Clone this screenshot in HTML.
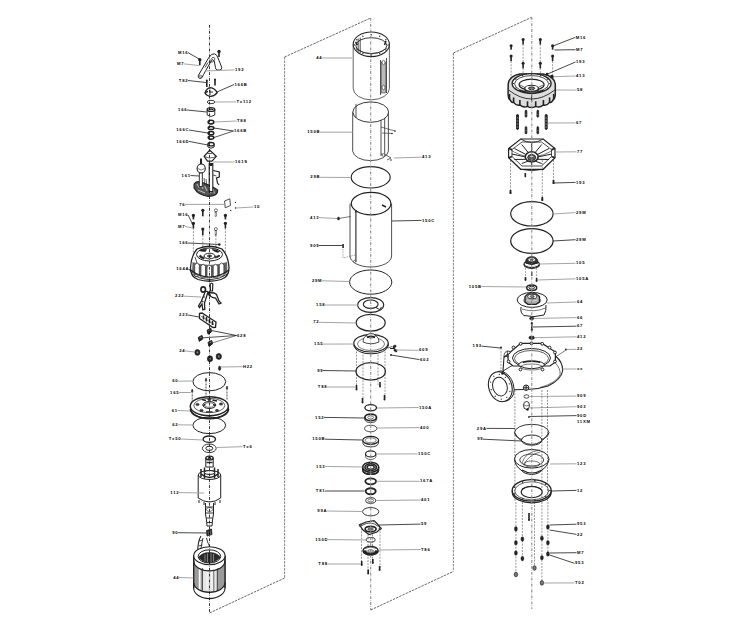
<!DOCTYPE html>
<html><head><meta charset="utf-8"><style>
html,body{margin:0;padding:0;background:#fff;}
body{width:752px;height:632px;overflow:hidden;}
svg{display:block;}
text{font-family:"Liberation Sans",sans-serif;font-size:4.2px;font-weight:bold;fill:#000;letter-spacing:0.75px;}
</style></head><body>
<svg width="752" height="632" viewBox="0 0 752 632">
<rect width="752" height="632" fill="#fff"/>
<line x1="209.5" y1="613" x2="284.6" y2="578" stroke="#444" stroke-width="0.8" stroke-dasharray="2.5,1"/>
<line x1="284.6" y1="57" x2="284.6" y2="578" stroke="#666" stroke-width="0.8" stroke-dasharray="2.5,1"/>
<line x1="284.6" y1="57" x2="370.7" y2="18" stroke="#444" stroke-width="0.8" stroke-dasharray="2.5,1"/>
<line x1="370.7" y1="610" x2="453.4" y2="571.4" stroke="#444" stroke-width="0.8" stroke-dasharray="2.5,1"/>
<line x1="453.4" y1="53" x2="453.4" y2="571.4" stroke="#666" stroke-width="0.8" stroke-dasharray="2.5,1"/>
<line x1="453.4" y1="53" x2="531.7" y2="17.3" stroke="#444" stroke-width="0.8" stroke-dasharray="2.5,1"/>
<circle cx="199.8" cy="59.8" r="1.7" fill="#222" stroke="none" stroke-width="0.5"/>
<rect x="199.0" y="59.8" width="1.6" height="5.5" fill="#222" stroke="none" stroke-width="0.5"/>
<circle cx="219" cy="51.5" r="1.7" fill="#222" stroke="none" stroke-width="0.5"/>
<rect x="218.2" y="51.5" width="1.6" height="5.5" fill="#222" stroke="none" stroke-width="0.5"/>
<path d="M198.3 75.5 L208.5 58 Q211.5 53 214.5 53.8 Q217 54.5 218 58 L221.8 67.5 Q222 70 219.5 70 L217 70 Q215.5 69.5 215.5 67.5 L214.2 61 Q213 58.5 211.5 60.5 L203.5 74.5 Q202.5 78.5 200 78.5 Q197.5 78 198.3 75.5 Z" stroke="#222" stroke-width="1.0" fill="#fff" />
<ellipse cx="200.4" cy="76.2" rx="1.4" ry="1.0" stroke="#222" stroke-width="0.6" fill="none" />
<path d="M209 62 L212.5 57.5 Q214.5 56.5 215 59 L213 62 Z" stroke="#222" stroke-width="0.7" fill="none" />
<path d="M205 67.5 L208 62.5" stroke="#222" stroke-width="0.8" fill="none" />
<text x="188.3" y="53.7" text-anchor="end">M16</text>
<line x1="188.0" y1="52.6" x2="200" y2="59.5" stroke="#1a1a1a" stroke-width="0.8"/>
<text x="184.3" y="65.0" text-anchor="end">M7</text>
<line x1="184.0" y1="63.9" x2="199" y2="65.5" stroke="#a0a0a0" stroke-width="0.95"/>
<text x="235" y="71.0" text-anchor="start">192</text>
<line x1="234.5" y1="69.9" x2="205" y2="71" stroke="#a0a0a0" stroke-width="0.95"/>
<circle cx="206.8" cy="80.5" r="1.0" fill="#222" stroke="none" stroke-width="0.5"/>
<rect x="206.0" y="80.5" width="1.6" height="6.5" fill="#222" stroke="none" stroke-width="0.5"/>
<circle cx="215" cy="79.5" r="1.0" fill="#222" stroke="none" stroke-width="0.5"/>
<rect x="214.2" y="79.5" width="1.6" height="6" fill="#222" stroke="none" stroke-width="0.5"/>
<text x="188.3" y="81.6" text-anchor="end">T82</text>
<line x1="188.0" y1="80.5" x2="206" y2="82.5" stroke="#1a1a1a" stroke-width="0.8"/>
<path d="M205 93 Q206.5 88 210.3 87.6 Q214.5 88 217.2 92.5 Q214.5 96.3 210.5 96.3 Q206.5 96 205 93 Z" stroke="#222" stroke-width="1.3" fill="#fff" />
<path d="M210 89.5 L210 95 M210 92 L213 92" stroke="#222" stroke-width="0.9" fill="none" />
<path d="M205 93 Q206.5 91.5 208 91.5" stroke="#222" stroke-width="1.6" fill="none" />
<text x="234.5" y="85.6" text-anchor="start">166B</text>
<line x1="234.0" y1="84.5" x2="217" y2="92" stroke="#1a1a1a" stroke-width="0.8"/>
<ellipse cx="211" cy="102" rx="3.8" ry="1.7" stroke="#222" stroke-width="0.9" fill="#fff" />
<text x="236.5" y="103.0" text-anchor="start">Tx112</text>
<line x1="236.0" y1="101.9" x2="214.8" y2="102" stroke="#a0a0a0" stroke-width="0.95"/>
<path d="M207.2 109.5 L207.2 115 Q211 118 214.8 115 L214.8 109.5" stroke="#222" stroke-width="0.9" fill="#fff" />
<ellipse cx="211" cy="109.5" rx="3.8" ry="1.9" stroke="#222" stroke-width="1.3" fill="#fff" />
<path d="M208.5 109.8 Q211 108.5 213.5 109.8" stroke="#222" stroke-width="1.1" fill="none" />
<text x="187.3" y="111.1" text-anchor="end">166</text>
<line x1="187.0" y1="110" x2="207" y2="112" stroke="#1a1a1a" stroke-width="0.8"/>
<ellipse cx="211" cy="122.1" rx="2.9" ry="1.9" stroke="#222" stroke-width="1.5" fill="#fff" />
<path d="M208.3 123 Q211 125 213.7 123" stroke="#222" stroke-width="0.7" fill="none" />
<text x="237" y="122.1" text-anchor="start">T88</text>
<line x1="236.5" y1="121" x2="214" y2="122" stroke="#a0a0a0" stroke-width="0.95"/>
<ellipse cx="211" cy="128" rx="2.8" ry="1.6" stroke="#222" stroke-width="1.5" fill="#fff" />
<ellipse cx="211" cy="133.2" rx="2.8" ry="1.6" stroke="#222" stroke-width="1.5" fill="#fff" />
<ellipse cx="211" cy="137.6" rx="2.8" ry="1.6" stroke="#222" stroke-width="1.5" fill="#fff" />
<text x="189.3" y="131.1" text-anchor="end">166C</text>
<line x1="189.0" y1="130" x2="208" y2="133" stroke="#1a1a1a" stroke-width="0.8"/>
<text x="234" y="132.1" text-anchor="start">166B</text>
<line x1="233.5" y1="131" x2="213.8" y2="128" stroke="#1a1a1a" stroke-width="0.8"/>
<line x1="233.5" y1="131" x2="213.8" y2="137.6" stroke="#222" stroke-width="0.75"/>
<path d="M207.9 144.2 L207.9 147 Q211 149.5 214.1 147 L214.1 144.2" stroke="#222" stroke-width="1.0" fill="#fff" />
<ellipse cx="211" cy="144.2" rx="3.1" ry="1.7" stroke="#222" stroke-width="1.3" fill="#fff" />
<text x="189.3" y="142.5" text-anchor="end">166D</text>
<line x1="189.0" y1="141.4" x2="207.8" y2="145" stroke="#1a1a1a" stroke-width="0.8"/>
<path d="M209.8 150.2 L216.3 156.3 L212 161.1 L207.5 161.1 L204.1 156.3 Z" stroke="#222" stroke-width="1.2" fill="#fff" />
<path d="M204.1 156.3 Q210 159.5 216.3 156.3 M207.5 153.5 L212 153.5" stroke="#222" stroke-width="0.7" fill="none" />
<text x="235" y="163.1" text-anchor="start">161S</text>
<line x1="234.5" y1="162" x2="213" y2="162" stroke="#a0a0a0" stroke-width="0.95"/>
<path d="M194.1 184 Q196 180.5 201 182 Q212 186 217.6 190 Q218 196.3 208 196.3 Q198 195 194.1 188 Z" stroke="#222" stroke-width="1.2" fill="#555" />
<path d="M197 184 L199 187.5 M200.5 184 L203 189 M204.5 185.5 L207 191 M209 187 L211 193 M213 189 L214.5 193.5 M198 190 L205 193" stroke="#ddd" stroke-width="0.8" fill="none" />
<rect x="209.2" y="163.5" width="3.6" height="28" fill="#fff" stroke="#222" stroke-width="1.1"/>
<rect x="209.4" y="163.5" width="3.2" height="2.5" fill="#222" stroke="none" stroke-width="0.5"/>
<path d="M201 159.3 L201 164" stroke="#222" stroke-width="2.0" fill="none" stroke-linecap="round"/>
<ellipse cx="201.2" cy="168.5" rx="4.1" ry="4.5" stroke="#222" stroke-width="1.1" fill="#fff" />
<path d="M197.8 168.5 Q201.2 171.5 204.6 168.5" stroke="#222" stroke-width="0.6" fill="none" />
<rect x="199.3" y="173" width="3.0" height="13.5" fill="#fff" stroke="#222" stroke-width="0.9"/>
<path d="M204 178 L205 186 M206 179 L207 187" stroke="#222" stroke-width="0.7" fill="none" />
<text x="190.8" y="176.6" text-anchor="end">161</text>
<line x1="190.5" y1="175.5" x2="199" y2="176" stroke="#1a1a1a" stroke-width="0.8"/>
<path d="M213.2 170.5 L219.3 172 L219.3 177 L216.5 178 L217.5 183 L219 185" stroke="#222" stroke-width="1.2" fill="none" />
<path d="M213.2 175 L216.5 176" stroke="#222" stroke-width="0.8" fill="none" />
<path d="M224.6 201 L229.8 198.8 L230.5 205.5 L225.2 207.8 Z" stroke="#222" stroke-width="0.8" fill="#fff" />
<text x="185.3" y="205.5" text-anchor="end">76</text>
<line x1="185.0" y1="204.4" x2="224.6" y2="204.4" stroke="#a0a0a0" stroke-width="0.95"/>
<circle cx="235.5" cy="202.4" r="0.6" fill="#222" stroke="none" stroke-width="0.5"/>
<circle cx="235.5" cy="208" r="0.7" fill="#222" stroke="none" stroke-width="0.5"/>
<circle cx="230.7" cy="210.4" r="0.7" fill="#222" stroke="none" stroke-width="0.5"/>
<text x="253.9" y="208.1" text-anchor="start">10</text>
<line x1="253.4" y1="207" x2="236" y2="208" stroke="#a0a0a0" stroke-width="0.95"/>
<circle cx="193.4" cy="215.4" r="1.6" fill="#222" stroke="none" stroke-width="0.5"/>
<rect x="192.6" y="215.4" width="1.6" height="4" fill="#222" stroke="none" stroke-width="0.5"/>
<circle cx="193.4" cy="223.3" r="1.6" fill="#222" stroke="none" stroke-width="0.5"/>
<rect x="192.6" y="223.3" width="1.6" height="5" fill="#222" stroke="none" stroke-width="0.5"/>
<line x1="193.4" y1="228" x2="193.4" y2="262" stroke="#333" stroke-width="0.5" stroke-dasharray="2,1.2"/>
<circle cx="225.4" cy="215.4" r="1.6" fill="#222" stroke="none" stroke-width="0.5"/>
<rect x="224.6" y="215.4" width="1.6" height="4" fill="#222" stroke="none" stroke-width="0.5"/>
<circle cx="225.4" cy="223.3" r="1.6" fill="#222" stroke="none" stroke-width="0.5"/>
<rect x="224.6" y="223.3" width="1.6" height="5" fill="#222" stroke="none" stroke-width="0.5"/>
<line x1="225.4" y1="228" x2="225.4" y2="262" stroke="#333" stroke-width="0.5" stroke-dasharray="2,1.2"/>
<circle cx="202.8" cy="210.3" r="1.6" fill="#222" stroke="none" stroke-width="0.5"/>
<rect x="202.0" y="210.3" width="1.6" height="6" fill="#222" stroke="none" stroke-width="0.5"/>
<circle cx="202.8" cy="229.1" r="1.6" fill="#222" stroke="none" stroke-width="0.5"/>
<rect x="202.0" y="229.1" width="1.6" height="6" fill="#222" stroke="none" stroke-width="0.5"/>
<line x1="202.8" y1="235" x2="202.8" y2="252" stroke="#333" stroke-width="0.5" stroke-dasharray="2,1.2"/>
<circle cx="215.9" cy="210.3" r="1.5" fill="#fff" stroke="#222" stroke-width="0.6"/>
<rect x="215.1" y="211.8" width="1.6" height="4.5" fill="#fff" stroke="#222" stroke-width="0.5"/>
<circle cx="215.9" cy="229.1" r="1.5" fill="#fff" stroke="#222" stroke-width="0.6"/>
<rect x="215.1" y="230.6" width="1.6" height="4.5" fill="#fff" stroke="#222" stroke-width="0.5"/>
<line x1="215.9" y1="235" x2="215.9" y2="250" stroke="#333" stroke-width="0.5" stroke-dasharray="2,1.2"/>
<text x="188.3" y="216.0" text-anchor="end">M16</text>
<line x1="188.0" y1="214.9" x2="193" y2="225" stroke="#1a1a1a" stroke-width="0.8"/>
<text x="185.3" y="227.6" text-anchor="end">M7</text>
<line x1="185.0" y1="226.5" x2="193" y2="228" stroke="#a0a0a0" stroke-width="0.95"/>
<text x="188.3" y="244.1" text-anchor="end">166</text>
<line x1="188.0" y1="243" x2="219.3" y2="244.5" stroke="#1a1a1a" stroke-width="0.8"/>
<circle cx="219.3" cy="244.5" r="1.3" fill="#222" stroke="none" stroke-width="0.5"/>
<path d="M197 249 Q209.5 243.5 222 249 Q228.5 256 229 268 Q229 277 221 279.5 Q209.5 283 198 279.5 Q190.5 277 190.5 268 Q191 256 197 249 Z" stroke="#222" stroke-width="1.3" fill="#fff" />
<path d="M192.5 262 Q209.5 268 227 262 L227.5 273 Q209.5 282 192 273 Z" stroke="#222" stroke-width="0" fill="#666" />
<path d="M194.7 276 L194.7 265.3 Q197 260.6 199.3 265.3 L199.3 276 Z" stroke="#222" stroke-width="0.7" fill="#fff" />
<path d="M200.89999999999998 277.3 L200.89999999999998 266.6 Q203.2 261.90000000000003 205.5 266.6 L205.5 277.3 Z" stroke="#222" stroke-width="0.7" fill="#fff" />
<path d="M207.0 277.8 L207.0 267.1 Q209.3 262.40000000000003 211.60000000000002 267.1 L211.60000000000002 277.8 Z" stroke="#222" stroke-width="0.7" fill="#fff" />
<path d="M213.2 277.3 L213.2 266.6 Q215.5 261.90000000000003 217.8 266.6 L217.8 277.3 Z" stroke="#222" stroke-width="0.7" fill="#fff" />
<path d="M219.29999999999998 276 L219.29999999999998 265.3 Q221.6 260.6 223.9 265.3 L223.9 276 Z" stroke="#222" stroke-width="0.7" fill="#fff" />
<path d="M190.5 270 Q209.5 284 229 270" stroke="#222" stroke-width="1.2" fill="none" />
<path d="M191 273.5 Q209.5 286 228.5 273.5" stroke="#222" stroke-width="0.9" fill="none" />
<ellipse cx="209.5" cy="254.5" rx="13" ry="6.5" stroke="#222" stroke-width="1.0" fill="#fff" />
<path d="M199 250.5 Q203 248.5 206.5 249.5 L205.5 251.5 Q201.5 251.5 199 250.5 Z" stroke="#222" stroke-width="0.6" fill="#222" />
<path d="M212 249.5 Q216.5 249 219.5 251.5 L217.5 252.5 Q214 251.5 212 249.5 Z" stroke="#222" stroke-width="0.6" fill="#222" />
<path d="M199 256.5 Q201 258.5 204 259 L204.5 257.5 Q202 257 200.5 255 Z" stroke="#222" stroke-width="0.6" fill="#222" />
<path d="M214.5 258 Q218 258 220 256 L219 255 Q217 256.5 214 256.5 Z" stroke="#222" stroke-width="0.6" fill="#222" />
<ellipse cx="209.5" cy="256" rx="5.5" ry="2.8" stroke="#222" stroke-width="1.0" fill="#fff" />
<ellipse cx="209.5" cy="256" rx="2.2" ry="1.1" stroke="#222" stroke-width="0.7" fill="#666" />
<path d="M195 257 Q196 260 197 263" stroke="#222" stroke-width="0.8" fill="none" />
<circle cx="196" cy="275.5" r="1.2" fill="#fff" stroke="#222" stroke-width="0.8"/>
<text x="189.3" y="270.1" text-anchor="end">164A</text>
<line x1="189.0" y1="269" x2="191.5" y2="272.5" stroke="#1a1a1a" stroke-width="0.8"/>
<ellipse cx="203.2" cy="289.5" rx="2.3" ry="2.6" stroke="#222" stroke-width="1.6" fill="#fff" />
<path d="M205.5 291 L208 292 L204.5 303 L204.8 309.5 L202.8 309.8 L202 304 L199.5 307.5 L198.5 306 L201.5 301 Z" stroke="#222" stroke-width="1.3" fill="#fff" />
<circle cx="204" cy="297" r="0.8" fill="#222" stroke="none" stroke-width="0.5"/>
<circle cx="202.8" cy="301.5" r="0.8" fill="#222" stroke="none" stroke-width="0.5"/>
<path d="M210.2 284 Q211.5 282.5 212.8 284 L212.5 291 L210.5 291 Z" stroke="#222" stroke-width="1.2" fill="#fff" />
<path d="M208.5 292.5 L214 293 L216.5 294.5 L219 301 L221 303 L219 304 L215.5 298 L212.5 297.5 L208.8 295 Z" stroke="#222" stroke-width="1.3" fill="#fff" />
<path d="M208.5 292.5 L210.5 296" stroke="#222" stroke-width="1.6" fill="none" />
<text x="184.3" y="297.3" text-anchor="end">222</text>
<line x1="184.0" y1="296.2" x2="201" y2="297" stroke="#a0a0a0" stroke-width="0.95"/>
<path d="M199.5 313.5 L202 313 L216 322 L215.5 327.4 L213 327.5 L199.5 318.5 Z" stroke="#222" stroke-width="1.3" fill="#fff" />
<path d="M203.5 315.5 L203.5 319.5 M206.5 317 L206.5 321.5 M209.5 319 L209.5 323.5 M212.5 321 L212.5 325" stroke="#222" stroke-width="1.5" fill="none" />
<path d="M201 316 L214 324.5" stroke="#222" stroke-width="0.6" fill="none" />
<text x="188.3" y="316.1" text-anchor="end">223</text>
<line x1="188.0" y1="315" x2="199" y2="317" stroke="#1a1a1a" stroke-width="0.8"/>
<path d="M207.10000000000002 330.2 L210.8 328.2 L211.60000000000002 331.7 L208.10000000000002 334.2 Z" stroke="#222" stroke-width="1.0" fill="#222" stroke-linejoin="round"/>
<line x1="208.3" y1="330.9" x2="210.5" y2="330.0" stroke="#bbb" stroke-width="0.6"/>
<path d="M198.3 337.4 L202.0 335.4 L202.8 338.9 L199.3 341.4 Z" stroke="#222" stroke-width="1.0" fill="#222" stroke-linejoin="round"/>
<line x1="199.5" y1="338.09999999999997" x2="201.7" y2="337.2" stroke="#bbb" stroke-width="0.6"/>
<path d="M208.0 342.4 L211.7 340.4 L212.5 343.9 L209.0 346.4 Z" stroke="#222" stroke-width="1.0" fill="#222" stroke-linejoin="round"/>
<line x1="209.2" y1="343.09999999999997" x2="211.39999999999998" y2="342.2" stroke="#bbb" stroke-width="0.6"/>
<text x="237" y="336.6" text-anchor="start">628</text>
<line x1="236.5" y1="335.5" x2="211.5" y2="330.5" stroke="#1a1a1a" stroke-width="0.8"/>
<line x1="236.5" y1="335.5" x2="203" y2="337.8" stroke="#1a1a1a" stroke-width="0.75"/>
<line x1="236.5" y1="335.5" x2="212" y2="343" stroke="#333" stroke-width="0.6"/>
<ellipse cx="197.4" cy="352.4" rx="2.6" ry="2.9" stroke="#222" stroke-width="0.6" fill="#222" />
<ellipse cx="210" cy="358.8" rx="2.7" ry="3.0" stroke="#222" stroke-width="0.6" fill="#222" />
<ellipse cx="218.8" cy="356.4" rx="2.7" ry="3.0" stroke="#222" stroke-width="0.6" fill="#222" />
<ellipse cx="197.4" cy="352.4" rx="1.0" ry="1.3" stroke="#222" stroke-width="0.3" fill="#888" />
<ellipse cx="210" cy="358.8" rx="1.0" ry="1.3" stroke="#222" stroke-width="0.3" fill="#888" />
<ellipse cx="218.8" cy="356.4" rx="1.0" ry="1.3" stroke="#222" stroke-width="0.3" fill="#888" />
<text x="185.3" y="352.0" text-anchor="end">24</text>
<line x1="185.0" y1="350.9" x2="194.7" y2="352" stroke="#a0a0a0" stroke-width="0.95"/>
<ellipse cx="219.6" cy="368.3" rx="1.2" ry="2.3" stroke="#222" stroke-width="0.4" fill="#222" />
<text x="243" y="367.8" text-anchor="start">H22</text>
<line x1="242.5" y1="366.7" x2="221" y2="367" stroke="#a0a0a0" stroke-width="0.95"/>
<ellipse cx="209.3" cy="381.7" rx="16.4" ry="9.1" stroke="#222" stroke-width="1.0" fill="none" />
<text x="178.3" y="382.3" text-anchor="end">60</text>
<line x1="178.0" y1="381.2" x2="193" y2="381" stroke="#a0a0a0" stroke-width="0.95"/>
<path d="M191.29999999999998 391.5 L192.2 389 L193.1 391.5 Z" stroke="#222" stroke-width="0.6" fill="#222" />
<line x1="192.2" y1="391.5" x2="192.2" y2="402" stroke="#222" stroke-width="0.8" stroke-dasharray="2,1"/>
<path d="M205.1 380.5 L206 378 L206.9 380.5 Z" stroke="#222" stroke-width="0.6" fill="#222" />
<line x1="206" y1="380.5" x2="206" y2="396" stroke="#222" stroke-width="0.8" stroke-dasharray="2,1"/>
<path d="M226.1 388.5 L227 386 L227.9 388.5 Z" stroke="#222" stroke-width="0.6" fill="#222" />
<line x1="227" y1="388.5" x2="227" y2="400" stroke="#222" stroke-width="0.8" stroke-dasharray="2,1"/>
<text x="179.3" y="393.6" text-anchor="end">165</text>
<line x1="179.0" y1="392.5" x2="191" y2="392.5" stroke="#a0a0a0" stroke-width="0.95"/>
<path d="M190.3 406.2 L190.5 409 A19 9.5 0 0 0 228.5 409 L228.3 406.2" stroke="#222" stroke-width="1.0" fill="#fff" />
<path d="M190.5 409 A19 9.5 0 0 0 228.5 409" stroke="#222" stroke-width="1.8" fill="none" />
<ellipse cx="209.3" cy="406.2" rx="19" ry="9.5" stroke="#222" stroke-width="1.4" fill="#fff" />
<ellipse cx="209.3" cy="405.5" rx="15.5" ry="7.2" stroke="#222" stroke-width="0.7" fill="none" />
<ellipse cx="209.3" cy="405" rx="6.5" ry="3.5" stroke="#222" stroke-width="1.0" fill="#fff" />
<ellipse cx="209.3" cy="405" rx="4.5" ry="2.3" stroke="#222" stroke-width="0.6" fill="none" />
<ellipse cx="197.5" cy="404.5" rx="1.6" ry="1.1" stroke="#222" stroke-width="0.7" fill="#444" />
<ellipse cx="221" cy="404" rx="1.6" ry="1.1" stroke="#222" stroke-width="0.7" fill="#444" />
<ellipse cx="201.5" cy="410.5" rx="1.6" ry="1.1" stroke="#222" stroke-width="0.7" fill="#444" />
<ellipse cx="217" cy="410.5" rx="1.6" ry="1.1" stroke="#222" stroke-width="0.7" fill="#444" />
<ellipse cx="209.3" cy="399.5" rx="1.6" ry="1.1" stroke="#222" stroke-width="0.7" fill="#444" />
<path d="M202 399.5 L206 400.5 M212.5 400 L217 401 M206 411.8 L212.5 411.8 M203.5 406 L205 404 M213.5 404 L215 406" stroke="#222" stroke-width="1.3" fill="none" />
<text x="177.8" y="411.6" text-anchor="end">61</text>
<line x1="177.5" y1="410.5" x2="190" y2="411" stroke="#a0a0a0" stroke-width="0.95"/>
<ellipse cx="209.3" cy="425.3" rx="16.4" ry="8.3" stroke="#222" stroke-width="1.0" fill="none" />
<text x="178.3" y="425.90000000000003" text-anchor="end">62</text>
<line x1="178.0" y1="424.8" x2="193" y2="425" stroke="#a0a0a0" stroke-width="0.95"/>
<ellipse cx="209.3" cy="439.2" rx="6.2" ry="3.2" stroke="#222" stroke-width="1.4" fill="none" />
<text x="181.3" y="440.1" text-anchor="end">Tx50</text>
<line x1="181.0" y1="439" x2="203" y2="440" stroke="#a0a0a0" stroke-width="0.95"/>
<ellipse cx="209.3" cy="448.3" rx="6.9" ry="4.3" stroke="#222" stroke-width="0.9" fill="#fff" />
<ellipse cx="209.3" cy="448.3" rx="3.5" ry="2.1" stroke="#222" stroke-width="1.0" fill="none" />
<text x="243" y="447.8" text-anchor="start">Tx6</text>
<line x1="242.5" y1="446.7" x2="216.5" y2="447.5" stroke="#a0a0a0" stroke-width="0.95"/>
<path d="M205.8 458 L205.8 467 L213.2 467 L213.2 458" stroke="#222" stroke-width="1.0" fill="#fff" />
<ellipse cx="209.5" cy="458" rx="3.7" ry="1.9" stroke="#222" stroke-width="1.3" fill="#fff" />
<ellipse cx="209.5" cy="458.2" rx="1.6" ry="0.9" stroke="#222" stroke-width="0.9" fill="#555" />
<path d="M206.5 462.5 L212.5 462.5" stroke="#222" stroke-width="1.4" fill="none" />
<path d="M198.2 475 L198.2 498 Q209.5 506 220.7 498 L220.7 475" stroke="#222" stroke-width="1.0" fill="#fff" />
<ellipse cx="209.5" cy="475" rx="11.2" ry="4.5" stroke="#222" stroke-width="1.0" fill="#fff" />
<path d="M201 469 L201 477 M218 469 L218 477 M204.5 467.5 L204.5 478.5 M214.5 467.5 L214.5 478.5" stroke="#222" stroke-width="1.5" fill="none" />
<path d="M201 474 Q209.5 481 218 474" stroke="#222" stroke-width="1.5" fill="none" />
<ellipse cx="209.5" cy="472.5" rx="5" ry="2" stroke="#222" stroke-width="1.0" fill="#fff" />
<path d="M199 500 L199 503 M220 500 L220 503 M204 502 L204 505 M215 502 L215 505" stroke="#222" stroke-width="1.0" fill="none" />
<path d="M205.5 503 L205.5 514 L206.5 520 L207 526 L212 526 L212.5 520 L213.5 514 L213.5 503" stroke="#222" stroke-width="1.0" fill="#fff" />
<path d="M205.5 507 L213.5 507 M205.8 513 L213.2 513 M206.5 518 L212.5 518 M207 522.5 L212 522.5" stroke="#222" stroke-width="0.9" fill="none" />
<ellipse cx="209.5" cy="509.5" rx="3" ry="2" stroke="#222" stroke-width="0.6" fill="none" />
<text x="179.3" y="493.70000000000005" text-anchor="end">112</text>
<line x1="179.0" y1="492.6" x2="204" y2="493" stroke="#a0a0a0" stroke-width="0.95"/>
<path d="M206.5 530.5 L211.5 529 L212 534.5 L207 536 Z" stroke="#222" stroke-width="0.8" fill="#222" />
<path d="M208 531 L208.5 535 M210.2 530.5 L210.7 534.5" stroke="#aaa" stroke-width="0.5" fill="none" />
<text x="178.3" y="533.8000000000001" text-anchor="end">90</text>
<line x1="178.0" y1="532.7" x2="206.5" y2="533" stroke="#1a1a1a" stroke-width="0.8"/>
<path d="M199 558 Q197 550 198.5 543 Q199.5 538 201 536" stroke="#222" stroke-width="1.1" fill="none" />
<path d="M201 558 Q200 551 201.5 545 L203 538" stroke="#222" stroke-width="0.9" fill="none" />
<path d="M199 541 L203 540 M198.5 546 L202.5 545 M198.5 550 L202 549" stroke="#222" stroke-width="0.8" fill="none" />
<path d="M206.5 538 Q207.5 543 209.5 546 Q209 552 210 556" stroke="#222" stroke-width="0.9" fill="none" />
<path d="M193.7 555.7 L193.7 588.3 A15.65 10.3 0 0 0 225 588.3 L225 555.7 Z" stroke="#222" stroke-width="1.1" fill="#fff" />
<path d="M193.7 561 A15.65 9.8 0 0 0 225 561 L225 582.5 A15.65 9.8 0 0 1 193.7 582.5 Z" stroke="#222" stroke-width="0" fill="#9a9a9a" />
<path d="M203 568.5 L203 590.5 A15.65 9.8 0 0 0 216.5 591 L216.5 569.3 A15.65 9.8 0 0 1 203 568.5 Z" stroke="#222" stroke-width="0" fill="#e6e6e6" />
<path d="M198.8 566.5 L198.8 589.5 L200.6 590 L200.6 567.2 Z" stroke="#222" stroke-width="0" fill="#fafafa" />
<path d="M206.5 566.5 L206.5 589.5 L207.5 590 L207.5 567.2 Z" stroke="#222" stroke-width="0" fill="#fafafa" />
<path d="M211.5 566.5 L211.5 589.5 L212.5 590 L212.5 567.2 Z" stroke="#222" stroke-width="0" fill="#fafafa" />
<path d="M202.5 568 L202.5 590 M213.8 569.5 L213.8 591 M217.5 568.5 L217.5 590.5" stroke="#333" stroke-width="0.7" fill="none" />
<path d="M193.7 561 A15.65 9.8 0 0 0 225 561" stroke="#222" stroke-width="1.2" fill="none" />
<path d="M193.7 582.5 A15.65 9.8 0 0 0 225 582.5" stroke="#222" stroke-width="1.2" fill="none" />
<line x1="193.7" y1="556" x2="193.7" y2="588.3" stroke="#222" stroke-width="1.3"/>
<line x1="225" y1="556" x2="225" y2="588.3" stroke="#222" stroke-width="1.3"/>
<ellipse cx="209.4" cy="555.7" rx="15.65" ry="9" stroke="#222" stroke-width="1.1" fill="#fff" />
<ellipse cx="209.4" cy="556.4" rx="11.3" ry="6.6" stroke="#222" stroke-width="1.0" fill="#fff" />
<path d="M198.5 557.5 Q202 552.5 209.4 552.5 Q217 552.5 220.5 557.5 Q215 562.5 209.4 562.5 Q203 562.5 198.5 557.5 Z" stroke="#222" stroke-width="0.6" fill="#2a2a2a" />
<path d="M205 554.5 L205 561.5 M207.5 553.5 L207.5 562 M211 553.5 L211 562 M213.5 554 L213.5 561.5" stroke="#aaa" stroke-width="0.7" fill="none" />
<path d="M196 553 Q199 549.5 202 549.8" stroke="#fff" stroke-width="1.0" fill="none" />
<text x="179.3" y="578.6" text-anchor="end">44</text>
<line x1="179.0" y1="577.5" x2="193.4" y2="578" stroke="#a0a0a0" stroke-width="0.95"/>
<path d="M353.2 44.3 L353.2 88.5 A18.1 11.3 0 0 0 389.4 88.5 L389.4 44.3" stroke="#333" stroke-width="0.75" fill="#fff" />
<ellipse cx="371.3" cy="44.3" rx="18.1" ry="12.3" stroke="#222" stroke-width="1.1" fill="#fff" />
<ellipse cx="371.3" cy="45.6" rx="15.5" ry="7.9" stroke="#222" stroke-width="0.9" fill="#fff" />
<path d="M355.5 48 Q371.3 60 387 48" stroke="#222" stroke-width="0.6" fill="none" />
<path d="M358.2 38.5 L358.2 52 M360.2 37.5 L360.2 53" stroke="#222" stroke-width="0.8" fill="none" />
<path d="M380.5 60 L380.5 95 M386.5 58 L386.5 93" stroke="#222" stroke-width="0.8" fill="none" />
<rect x="381.5" y="62" width="4" height="31" fill="#bbb" stroke="#333" stroke-width="0.5"/>
<ellipse cx="383.5" cy="62.5" rx="1.5" ry="2.2" stroke="#222" stroke-width="0.6" fill="#fff" />
<ellipse cx="383.5" cy="87.5" rx="1.5" ry="2.2" stroke="#222" stroke-width="0.6" fill="#fff" />
<circle cx="388.1" cy="44.9" r="0.7" fill="#222" stroke="none" stroke-width="0.5"/>
<circle cx="385.8" cy="49.9" r="0.7" fill="#222" stroke="none" stroke-width="0.5"/>
<circle cx="379.7" cy="53.6" r="0.7" fill="#222" stroke="none" stroke-width="0.5"/>
<circle cx="371.3" cy="55.0" r="0.7" fill="#222" stroke="none" stroke-width="0.5"/>
<circle cx="362.9" cy="53.6" r="0.7" fill="#222" stroke="none" stroke-width="0.5"/>
<circle cx="356.8" cy="49.9" r="0.7" fill="#222" stroke="none" stroke-width="0.5"/>
<circle cx="354.5" cy="44.9" r="0.7" fill="#222" stroke="none" stroke-width="0.5"/>
<circle cx="356.8" cy="39.8" r="0.7" fill="#222" stroke="none" stroke-width="0.5"/>
<circle cx="362.9" cy="36.2" r="0.7" fill="#222" stroke="none" stroke-width="0.5"/>
<circle cx="371.3" cy="34.8" r="0.7" fill="#222" stroke="none" stroke-width="0.5"/>
<circle cx="379.7" cy="36.2" r="0.7" fill="#222" stroke="none" stroke-width="0.5"/>
<circle cx="385.8" cy="39.8" r="0.7" fill="#222" stroke="none" stroke-width="0.5"/>
<path d="M355.5 42 L357.5 45 M386 41 L384.5 45" stroke="#222" stroke-width="1.5" fill="none" />
<text x="322.3" y="59.1" text-anchor="end">44</text>
<line x1="322.0" y1="58" x2="352" y2="58" stroke="#a0a0a0" stroke-width="0.95"/>
<path d="M352.7 112.1 L352.7 151.2 A17.9 10.2 0 0 0 388.4 151.2 L388.4 112.1" stroke="#222" stroke-width="0.8" fill="#fff" />
<ellipse cx="370.7" cy="112.1" rx="17.9" ry="10.2" stroke="#222" stroke-width="0.9" fill="#fff" />
<path d="M381 120.5 L381 156 M384.7 118 L384.7 155" stroke="#222" stroke-width="0.8" fill="none" />
<path d="M356 104 L356 118" stroke="#222" stroke-width="0.8" fill="none" />
<path d="M381 127 L395 131 M382 133 L392 133.5" stroke="#222" stroke-width="0.6" fill="none" />
<circle cx="395" cy="131" r="0.8" fill="#222" stroke="none" stroke-width="0.5"/>
<circle cx="392" cy="133.5" r="0.8" fill="#222" stroke="none" stroke-width="0.5"/>
<path d="M381 154 L386 155 L391 158 L387 160" stroke="#222" stroke-width="0.7" fill="none" />
<circle cx="383.5" cy="155" r="1.4" fill="#fff" stroke="#222" stroke-width="0.6"/>
<circle cx="391" cy="160" r="0.8" fill="#222" stroke="none" stroke-width="0.5"/>
<text x="320.3" y="133.29999999999998" text-anchor="end">150B</text>
<line x1="320.0" y1="132.2" x2="352.7" y2="132.2" stroke="#a0a0a0" stroke-width="0.95"/>
<text x="422" y="158.29999999999998" text-anchor="start">413</text>
<line x1="421.5" y1="157.2" x2="394" y2="158" stroke="#a0a0a0" stroke-width="0.95"/>
<ellipse cx="370.7" cy="177.3" rx="19.5" ry="10.7" stroke="#222" stroke-width="1.1" fill="none" />
<text x="320.3" y="178.4" text-anchor="end">29B</text>
<line x1="320.0" y1="177.3" x2="351" y2="177.5" stroke="#a0a0a0" stroke-width="0.95"/>
<path d="M350 203.6 L350 256 A20.8 11 0 0 0 391.6 256 L391.6 203.6" stroke="#222" stroke-width="0.8" fill="#fff" />
<ellipse cx="371.1" cy="203.6" rx="19.8" ry="11.2" stroke="#222" stroke-width="1.2" fill="#fff" />
<line x1="355.9" y1="211" x2="355.9" y2="262" stroke="#222" stroke-width="1.1"/>
<circle cx="356" cy="211.5" r="0.9" fill="#222" stroke="none" stroke-width="0.5"/>
<circle cx="354.5" cy="261.5" r="1.1" fill="#fff" stroke="#222" stroke-width="0.6"/>
<path d="M382 205 L386 207" stroke="#222" stroke-width="1.4" fill="none" />
<path d="M338.5 218.5 L350.5 216.5" stroke="#222" stroke-width="0.6" fill="none" />
<ellipse cx="338.5" cy="218.5" rx="1.2" ry="1.5" stroke="#222" stroke-width="0.4" fill="#222" />
<path d="M343 244 L343 258 L355 255" stroke="#555" stroke-width="0.5" fill="none" stroke-dasharray="1.5,1"/>
<rect x="342.3" y="244" width="1.5" height="4" fill="#222" stroke="none" stroke-width="0.5"/>
<text x="319.3" y="218.7" text-anchor="end">413</text>
<line x1="319.0" y1="217.6" x2="337" y2="218.5" stroke="#a0a0a0" stroke-width="0.95"/>
<text x="319.3" y="246.6" text-anchor="end">909</text>
<line x1="319.0" y1="245.5" x2="342.5" y2="245.5" stroke="#1a1a1a" stroke-width="0.8"/>
<text x="422" y="221.5" text-anchor="start">150C</text>
<line x1="421.5" y1="220.4" x2="391.8" y2="221" stroke="#1a1a1a" stroke-width="0.8"/>
<ellipse cx="370.7" cy="282.1" rx="21.1" ry="12.1" stroke="#222" stroke-width="1.0" fill="none" />
<text x="322.3" y="281.90000000000003" text-anchor="end">29M</text>
<line x1="322.0" y1="280.8" x2="349.6" y2="281.5" stroke="#a0a0a0" stroke-width="0.95"/>
<ellipse cx="370.7" cy="305" rx="13" ry="7.4" stroke="#222" stroke-width="1.1" fill="#fff" />
<ellipse cx="370.7" cy="304.2" rx="7.4" ry="4.2" stroke="#222" stroke-width="1.1" fill="none" />
<path d="M376 307.5 L379.5 309.5 L381.5 307" stroke="#222" stroke-width="1.0" fill="none" />
<text x="325.3" y="306.1" text-anchor="end">158</text>
<line x1="325.0" y1="305" x2="357.7" y2="305" stroke="#a0a0a0" stroke-width="0.95"/>
<ellipse cx="370.7" cy="322.7" rx="14.5" ry="8.4" stroke="#222" stroke-width="1.2" fill="none" />
<text x="319.3" y="323.40000000000003" text-anchor="end">72</text>
<line x1="319.0" y1="322.3" x2="356.2" y2="323" stroke="#a0a0a0" stroke-width="0.95"/>
<line x1="356.5" y1="345" x2="356.5" y2="385" stroke="#333" stroke-width="0.5" stroke-dasharray="2,1.2"/>
<line x1="363" y1="345" x2="363" y2="400" stroke="#333" stroke-width="0.5" stroke-dasharray="2,1.2"/>
<line x1="378" y1="345" x2="378" y2="385" stroke="#333" stroke-width="0.5" stroke-dasharray="2,1.2"/>
<line x1="385" y1="345" x2="385" y2="399" stroke="#333" stroke-width="0.5" stroke-dasharray="2,1.2"/>
<path d="M353.8 343.2 L354 346 A17.2 8.8 0 0 0 388.2 346 L388.4 343.2" stroke="#222" stroke-width="1.0" fill="#fff" />
<ellipse cx="371" cy="343.2" rx="17.2" ry="8.8" stroke="#222" stroke-width="1.2" fill="#fff" />
<ellipse cx="371" cy="344" rx="13.5" ry="6.5" stroke="#222" stroke-width="0.6" fill="none" />
<path d="M363 342 Q363 335 371 334 Q379 335 379 342 Q371 345.5 363 342 Z" stroke="#222" stroke-width="0.8" fill="#fff" />
<ellipse cx="371" cy="335.8" rx="4.2" ry="2.1" stroke="#222" stroke-width="0.8" fill="#fff" />
<path d="M367 337.5 Q371 335 375 337.5" stroke="#222" stroke-width="1.6" fill="none" />
<path d="M388 348 L392 346.5" stroke="#222" stroke-width="0.7" fill="none" />
<ellipse cx="394.5" cy="346.5" rx="1.8" ry="1.2" stroke="#222" stroke-width="0.5" fill="#222" transform="rotate(-30 394.5 346.5)"/>
<ellipse cx="395.5" cy="350.5" rx="1.8" ry="1.2" stroke="#222" stroke-width="0.5" fill="#222" transform="rotate(30 395.5 350.5)"/>
<line x1="390" y1="348.5" x2="395" y2="348.5" stroke="#222" stroke-width="1.0"/>
<text x="419" y="351.40000000000003" text-anchor="start">609</text>
<line x1="418.5" y1="350.3" x2="396" y2="350" stroke="#a0a0a0" stroke-width="0.95"/>
<circle cx="391" cy="355" r="0.9" fill="#222" stroke="none" stroke-width="0.5"/>
<text x="420" y="360.70000000000005" text-anchor="start">602</text>
<line x1="419.5" y1="359.6" x2="391" y2="355" stroke="#1a1a1a" stroke-width="0.8"/>
<text x="323.3" y="345.20000000000005" text-anchor="end">155</text>
<line x1="323.0" y1="344.1" x2="353.8" y2="344" stroke="#a0a0a0" stroke-width="0.95"/>
<ellipse cx="370.7" cy="371.4" rx="14.7" ry="8.7" stroke="#222" stroke-width="1.2" fill="none" />
<text x="323.3" y="371.6" text-anchor="end">99</text>
<line x1="323.0" y1="370.5" x2="356" y2="371" stroke="#1a1a1a" stroke-width="0.8"/>
<rect x="355.7" y="385" width="1.6" height="4.5" fill="#222" stroke="none" stroke-width="0.5"/>
<circle cx="356.5" cy="389.5" r="0.9" fill="#222" stroke="none" stroke-width="0.5"/>
<rect x="379.2" y="382" width="1.6" height="4.5" fill="#222" stroke="none" stroke-width="0.5"/>
<circle cx="380" cy="386.5" r="0.9" fill="#222" stroke="none" stroke-width="0.5"/>
<rect x="361.7" y="398" width="1.6" height="4.5" fill="#222" stroke="none" stroke-width="0.5"/>
<circle cx="362.5" cy="402.5" r="0.9" fill="#222" stroke="none" stroke-width="0.5"/>
<rect x="383.7" y="395" width="1.6" height="4.5" fill="#222" stroke="none" stroke-width="0.5"/>
<circle cx="384.5" cy="399.5" r="0.9" fill="#222" stroke="none" stroke-width="0.5"/>
<text x="327.3" y="388.1" text-anchor="end">T88</text>
<line x1="327.0" y1="387" x2="355.6" y2="387" stroke="#a0a0a0" stroke-width="0.95"/>
<ellipse cx="370.7" cy="407.7" rx="5.8" ry="3.1" stroke="#222" stroke-width="1.3" fill="none" />
<text x="419" y="408.6" text-anchor="start">150A</text>
<line x1="418.5" y1="407.5" x2="377" y2="408" stroke="#a0a0a0" stroke-width="0.95"/>
<path d="M364.9 417.4 L364.9 419.5 A5.8 3.2 0 0 0 376.5 419.5 L376.5 417.4" stroke="#222" stroke-width="0.8" fill="#fff" />
<ellipse cx="370.7" cy="417.4" rx="5.8" ry="3.3" stroke="#222" stroke-width="1.8" fill="#fff" />
<ellipse cx="370.7" cy="417.4" rx="3" ry="1.5" stroke="#222" stroke-width="0.6" fill="none" />
<text x="324.3" y="418.5" text-anchor="end">152</text>
<line x1="324.0" y1="417.4" x2="364.5" y2="418" stroke="#1a1a1a" stroke-width="0.8"/>
<ellipse cx="370.7" cy="428.5" rx="6.2" ry="3.3" stroke="#222" stroke-width="0.8" fill="none" />
<text x="420" y="428.70000000000005" text-anchor="start">400</text>
<line x1="419.5" y1="427.6" x2="377" y2="428" stroke="#a0a0a0" stroke-width="0.95"/>
<path d="M362.8 440.3 L363 443.5 A7.8 4 0 0 0 378.4 443.5 L378.6 440.3" stroke="#222" stroke-width="0.9" fill="#fff" />
<ellipse cx="370.7" cy="440.3" rx="7.9" ry="4" stroke="#222" stroke-width="1.2" fill="#fff" />
<ellipse cx="370.7" cy="440.3" rx="5.5" ry="2.5" stroke="#222" stroke-width="0.6" fill="none" />
<text x="325.3" y="440.3" text-anchor="end">150B</text>
<line x1="325.0" y1="439.2" x2="362.5" y2="440" stroke="#1a1a1a" stroke-width="0.8"/>
<path d="M365.5 453.9 L365.5 456.5 A5.2 3 0 0 0 375.9 456.5 L375.9 453.9" stroke="#222" stroke-width="0.7" fill="#fff" />
<ellipse cx="370.7" cy="453.9" rx="5.2" ry="3" stroke="#222" stroke-width="1.2" fill="#fff" />
<text x="418" y="455.0" text-anchor="start">150C</text>
<line x1="417.5" y1="453.9" x2="376" y2="454" stroke="#a0a0a0" stroke-width="0.95"/>
<path d="M362.6 467.2 L362.8 470.5 A8 4.5 0 0 0 378.6 470.5 L378.7 467.2" stroke="#222" stroke-width="1.3" fill="#fff" />
<path d="M362.8 470.5 A8 4.5 0 0 0 378.6 470.5" stroke="#222" stroke-width="1.5" fill="none" />
<ellipse cx="370.7" cy="467.2" rx="8" ry="5" stroke="#222" stroke-width="1.6" fill="#fff" />
<ellipse cx="370.7" cy="467.2" rx="5.8" ry="3.4" stroke="#222" stroke-width="1.5" fill="#888" />
<ellipse cx="370.7" cy="467.2" rx="3.4" ry="1.8" stroke="#222" stroke-width="1.1" fill="#fff" />
<text x="325.3" y="467.5" text-anchor="end">153</text>
<line x1="325.0" y1="466.4" x2="362" y2="467" stroke="#a0a0a0" stroke-width="0.95"/>
<ellipse cx="370.7" cy="481.3" rx="5.4" ry="3" stroke="#222" stroke-width="1.8" fill="none" />
<text x="420" y="482.40000000000003" text-anchor="start">167A</text>
<line x1="419.5" y1="481.3" x2="376.5" y2="481.3" stroke="#a0a0a0" stroke-width="0.95"/>
<ellipse cx="370.7" cy="491.2" rx="5" ry="3" stroke="#222" stroke-width="1.9" fill="none" />
<text x="325.3" y="492.1" text-anchor="end">T81</text>
<line x1="325.0" y1="491" x2="364.5" y2="491" stroke="#1a1a1a" stroke-width="0.8"/>
<ellipse cx="370.7" cy="500.5" rx="5" ry="2.8" stroke="#222" stroke-width="1.0" fill="none" />
<ellipse cx="370.7" cy="500.5" rx="2.8" ry="1.5" stroke="#222" stroke-width="0.6" fill="none" />
<text x="421" y="501.1" text-anchor="start">401</text>
<line x1="420.5" y1="500" x2="376" y2="500.5" stroke="#a0a0a0" stroke-width="0.95"/>
<ellipse cx="370.7" cy="511.7" rx="8.1" ry="4.2" stroke="#222" stroke-width="0.9" fill="none" />
<text x="327.3" y="512.1" text-anchor="end">99A</text>
<line x1="327.0" y1="511" x2="362.5" y2="511.5" stroke="#a0a0a0" stroke-width="0.95"/>
<line x1="361.5" y1="528" x2="361.5" y2="563" stroke="#333" stroke-width="0.5" stroke-dasharray="2,1.2"/>
<line x1="368" y1="528" x2="368" y2="572" stroke="#333" stroke-width="0.5" stroke-dasharray="2,1.2"/>
<line x1="380" y1="528" x2="380" y2="568" stroke="#333" stroke-width="0.5" stroke-dasharray="2,1.2"/>
<line x1="372.5" y1="528" x2="372.5" y2="562" stroke="#333" stroke-width="0.5" stroke-dasharray="2,1.2"/>
<path d="M359.6 524.9 L366 522 L374 520.7 L377 523.5 L380.9 528.3 L377 532 L369 534.5 L363 530 Z" stroke="#222" stroke-width="1.2" fill="#fff" />
<path d="M362 525.5 Q370.6 520 378.5 526.5" stroke="#222" stroke-width="0.8" fill="none" />
<ellipse cx="370.6" cy="529.1" rx="5.5" ry="2.8" stroke="#222" stroke-width="1.7" fill="#fff" />
<ellipse cx="370.6" cy="529.1" rx="2.8" ry="1.2" stroke="#222" stroke-width="0.6" fill="#888" />
<circle cx="360.3" cy="525.3" r="1.2" fill="#555" stroke="#222" stroke-width="0.6"/>
<circle cx="380.2" cy="528.6" r="1.2" fill="#555" stroke="#222" stroke-width="0.6"/>
<circle cx="374" cy="521.3" r="1.0" fill="#555" stroke="none" stroke-width="0.5"/>
<text x="421" y="525.2" text-anchor="start">59</text>
<line x1="420.5" y1="524.1" x2="379" y2="525" stroke="#1a1a1a" stroke-width="0.8"/>
<ellipse cx="370.7" cy="539.8" rx="4.5" ry="2.3" stroke="#222" stroke-width="0.9" fill="none" />
<text x="328.3" y="540.7" text-anchor="end">150D</text>
<line x1="328.0" y1="539.6" x2="366" y2="540" stroke="#a0a0a0" stroke-width="0.95"/>
<ellipse cx="370.6" cy="550.7" rx="7.6" ry="4.4" stroke="#222" stroke-width="1.3" fill="#fff" />
<path d="M363 550.7 A7.6 4.4 0 0 0 378.2 550.7 L375 550.7 A4.4 2.2 0 0 1 366.2 550.7 Z" stroke="#222" stroke-width="0.6" fill="#222" />
<path d="M364.5 548.5 Q370.6 545.5 376.7 548.5" stroke="#555" stroke-width="0.9" fill="none" />
<ellipse cx="370.6" cy="551" rx="3" ry="1.2" stroke="#222" stroke-width="0.7" fill="#fff" />
<text x="421" y="550.6" text-anchor="start">T86</text>
<line x1="420.5" y1="549.5" x2="378.5" y2="550" stroke="#a0a0a0" stroke-width="0.95"/>
<rect x="360.9" y="561" width="1.6" height="4" fill="#222" stroke="none" stroke-width="0.5"/>
<circle cx="361.7" cy="565" r="0.9" fill="#222" stroke="none" stroke-width="0.5"/>
<rect x="367.4" y="569.5" width="1.6" height="4" fill="#222" stroke="none" stroke-width="0.5"/>
<circle cx="368.2" cy="573.5" r="0.9" fill="#222" stroke="none" stroke-width="0.5"/>
<rect x="372.0" y="559" width="1.6" height="4" fill="#222" stroke="none" stroke-width="0.5"/>
<circle cx="372.8" cy="563" r="0.9" fill="#222" stroke="none" stroke-width="0.5"/>
<rect x="378.8" y="566" width="1.6" height="4" fill="#222" stroke="none" stroke-width="0.5"/>
<circle cx="379.6" cy="570" r="0.9" fill="#222" stroke="none" stroke-width="0.5"/>
<text x="327.8" y="565.1" text-anchor="end">T88</text>
<line x1="327.5" y1="564" x2="361" y2="564" stroke="#a0a0a0" stroke-width="0.95"/>
<circle cx="511.1" cy="45.7" r="1.5" fill="#222" stroke="none" stroke-width="0.5"/>
<rect x="510.3" y="45.7" width="1.6" height="4" fill="#222" stroke="none" stroke-width="0.5"/>
<circle cx="511.1" cy="56.1" r="1.5" fill="#222" stroke="none" stroke-width="0.5"/>
<rect x="510.3" y="56.1" width="1.6" height="5" fill="#222" stroke="none" stroke-width="0.5"/>
<line x1="511.1" y1="61" x2="511.1" y2="82" stroke="#333" stroke-width="0.5" stroke-dasharray="2,1.2"/>
<circle cx="552.6" cy="45.7" r="1.5" fill="#222" stroke="none" stroke-width="0.5"/>
<rect x="551.8000000000001" y="45.7" width="1.6" height="4" fill="#222" stroke="none" stroke-width="0.5"/>
<circle cx="552.6" cy="56.1" r="1.5" fill="#222" stroke="none" stroke-width="0.5"/>
<rect x="551.8000000000001" y="56.1" width="1.6" height="5" fill="#222" stroke="none" stroke-width="0.5"/>
<line x1="552.6" y1="61" x2="552.6" y2="82" stroke="#333" stroke-width="0.5" stroke-dasharray="2,1.2"/>
<circle cx="523.1" cy="39.4" r="1.5" fill="#222" stroke="none" stroke-width="0.5"/>
<rect x="522.3000000000001" y="39.4" width="1.6" height="5" fill="#222" stroke="none" stroke-width="0.5"/>
<circle cx="523.1" cy="63.3" r="1.5" fill="#222" stroke="none" stroke-width="0.5"/>
<rect x="522.3000000000001" y="63.3" width="1.6" height="5" fill="#222" stroke="none" stroke-width="0.5"/>
<line x1="523.1" y1="44" x2="523.1" y2="62" stroke="#333" stroke-width="0.5" stroke-dasharray="2,1.2"/>
<line x1="523.1" y1="68" x2="523.1" y2="80" stroke="#333" stroke-width="0.5" stroke-dasharray="2,1.2"/>
<circle cx="540.3" cy="39.4" r="1.5" fill="#222" stroke="none" stroke-width="0.5"/>
<rect x="539.5" y="39.4" width="1.6" height="5" fill="#222" stroke="none" stroke-width="0.5"/>
<circle cx="540.3" cy="63.3" r="1.5" fill="#222" stroke="none" stroke-width="0.5"/>
<rect x="539.5" y="63.3" width="1.6" height="5" fill="#222" stroke="none" stroke-width="0.5"/>
<line x1="540.3" y1="44" x2="540.3" y2="62" stroke="#333" stroke-width="0.5" stroke-dasharray="2,1.2"/>
<line x1="540.3" y1="68" x2="540.3" y2="80" stroke="#333" stroke-width="0.5" stroke-dasharray="2,1.2"/>
<text x="575.7" y="38.5" text-anchor="start">M16</text>
<line x1="575.2" y1="37.4" x2="553" y2="46" stroke="#1a1a1a" stroke-width="0.8"/>
<text x="576" y="50.800000000000004" text-anchor="start">M7</text>
<line x1="575.5" y1="49.7" x2="554.5" y2="50" stroke="#1a1a1a" stroke-width="0.8"/>
<path d="M508.2 84 Q509 76 520 74 L543 74 Q554 76 555.3 84 L555.3 95 Q554.4 99.6 553.7 98.9 Q551.6 103.3 549.6 102.4 Q546.5 106.3 543.4 105.0 Q539.5 108.2 535.7 106.3 Q531.6 108.9 527.5 106.3 Q523.7 108.2 519.9 105.0 Q516.7 106.3 513.6 102.4 Q511.6 103.3 509.5 98.9 Q508.8 99.6 508.1 95.0 Z" stroke="#222" stroke-width="1.5" fill="#ddd" />
<path d="M509.5 93.9 L509.5 99.4" stroke="#222" stroke-width="1.6" fill="none" />
<path d="M513.6 97.4 L513.6 102.9" stroke="#222" stroke-width="1.6" fill="none" />
<path d="M519.9 100.0 L519.9 105.5" stroke="#222" stroke-width="1.6" fill="none" />
<path d="M527.5 101.3 L527.5 106.8" stroke="#222" stroke-width="1.6" fill="none" />
<path d="M535.7 101.3 L535.7 106.8" stroke="#222" stroke-width="1.6" fill="none" />
<path d="M543.4 100.0 L543.4 105.5" stroke="#222" stroke-width="1.6" fill="none" />
<path d="M549.6 97.4 L549.6 102.9" stroke="#222" stroke-width="1.6" fill="none" />
<path d="M553.7 93.9 L553.7 99.4" stroke="#222" stroke-width="1.6" fill="none" />
<path d="M508.6 90 Q531.6 108 554.8 90" stroke="#222" stroke-width="0.9" fill="none" />
<ellipse cx="531.6" cy="83.5" rx="19.5" ry="9.8" stroke="#222" stroke-width="1.3" fill="#fff" />
<ellipse cx="531.6" cy="83.8" rx="17" ry="8.2" stroke="#222" stroke-width="0.8" fill="none" />
<circle cx="549.8" cy="83.6" r="0.7" fill="#222" stroke="none" stroke-width="0.5"/>
<circle cx="547.4" cy="88.1" r="0.7" fill="#222" stroke="none" stroke-width="0.5"/>
<circle cx="540.7" cy="91.4" r="0.7" fill="#222" stroke="none" stroke-width="0.5"/>
<circle cx="531.6" cy="92.6" r="0.7" fill="#222" stroke="none" stroke-width="0.5"/>
<circle cx="522.5" cy="91.4" r="0.7" fill="#222" stroke="none" stroke-width="0.5"/>
<circle cx="515.8" cy="88.1" r="0.7" fill="#222" stroke="none" stroke-width="0.5"/>
<circle cx="513.4" cy="83.6" r="0.7" fill="#222" stroke="none" stroke-width="0.5"/>
<circle cx="515.8" cy="79.1" r="0.7" fill="#222" stroke="none" stroke-width="0.5"/>
<circle cx="522.5" cy="75.8" r="0.7" fill="#222" stroke="none" stroke-width="0.5"/>
<circle cx="531.6" cy="74.6" r="0.7" fill="#222" stroke="none" stroke-width="0.5"/>
<circle cx="540.7" cy="75.8" r="0.7" fill="#222" stroke="none" stroke-width="0.5"/>
<circle cx="547.4" cy="79.1" r="0.7" fill="#222" stroke="none" stroke-width="0.5"/>
<ellipse cx="531.6" cy="84.7" rx="12.5" ry="5.6" stroke="#222" stroke-width="1.2" fill="#fff" />
<path d="M520 85 Q531.6 93 543 85" stroke="#222" stroke-width="0.7" fill="none" />
<path d="M525 88.3 L525 92 Q531.6 95.5 538.2 92 L538.2 88.3" stroke="#222" stroke-width="1.0" fill="#555" />
<ellipse cx="531.6" cy="88.3" rx="6.8" ry="3" stroke="#222" stroke-width="1.1" fill="#fff" />
<ellipse cx="531.6" cy="88.3" rx="3.2" ry="1.4" stroke="#222" stroke-width="0.9" fill="#777" />
<path d="M519 90 L525 92 M544 90 L538.2 92 M531.6 95 L531.6 101" stroke="#222" stroke-width="1.0" fill="none" />
<text x="577" y="91.19999999999999" text-anchor="start">58</text>
<line x1="576.5" y1="90.1" x2="556" y2="90" stroke="#a0a0a0" stroke-width="0.95"/>
<circle cx="547.1" cy="74.1" r="1.3" fill="#222" stroke="none" stroke-width="0.5"/>
<text x="576" y="63.1" text-anchor="start">193</text>
<line x1="575.5" y1="62" x2="547.5" y2="74" stroke="#1a1a1a" stroke-width="0.8"/>
<circle cx="551.9" cy="76.7" r="1.9" fill="#222" stroke="none" stroke-width="0.5"/>
<text x="576" y="77.1" text-anchor="start">413</text>
<line x1="575.5" y1="76" x2="553.5" y2="76.7" stroke="#a0a0a0" stroke-width="0.95"/>
<path d="M525.2 110.6 Q526 109.5 526.8 110.6 L526.9 116.6 Q526 118.0 525.1 116.6 Z" stroke="#222" stroke-width="0.8" fill="#222" />
<line x1="525.4" y1="114.3" x2="526.6" y2="114.3" stroke="#ccc" stroke-width="0.5"/>
<path d="M537.0 110.6 Q537.8 109.5 538.5999999999999 110.6 L538.6999999999999 116.6 Q537.8 118.0 536.9 116.6 Z" stroke="#222" stroke-width="0.8" fill="#222" />
<line x1="537.1999999999999" y1="114.3" x2="538.4" y2="114.3" stroke="#ccc" stroke-width="0.5"/>
<path d="M525.2 127.1 Q526 126.0 526.8 127.1 L526.9 133.3 Q526 134.70000000000002 525.1 133.3 Z" stroke="#222" stroke-width="0.8" fill="#222" />
<line x1="525.4" y1="130.8" x2="526.6" y2="130.8" stroke="#ccc" stroke-width="0.5"/>
<path d="M537.0 127.1 Q537.8 126.0 538.5999999999999 127.1 L538.6999999999999 133.3 Q537.8 134.70000000000002 536.9 133.3 Z" stroke="#222" stroke-width="0.8" fill="#222" />
<line x1="537.1999999999999" y1="130.8" x2="538.4" y2="130.8" stroke="#ccc" stroke-width="0.5"/>
<path d="M516.5 114.9 Q517.5 114 518.5 114.9 L518.5 129 Q517.5 130 516.5 129 Z" stroke="#222" stroke-width="0.9" fill="#222" />
<line x1="516.8" y1="118" x2="518.2" y2="118" stroke="#ddd" stroke-width="0.6"/>
<line x1="516.8" y1="121" x2="518.2" y2="121" stroke="#ddd" stroke-width="0.6"/>
<line x1="516.8" y1="124" x2="518.2" y2="124" stroke="#ddd" stroke-width="0.6"/>
<line x1="516.8" y1="127" x2="518.2" y2="127" stroke="#ddd" stroke-width="0.6"/>
<path d="M545.2 114.9 Q546.2 114 547.2 114.9 L547.2 129 Q546.2 130 545.2 129 Z" stroke="#222" stroke-width="0.9" fill="#222" />
<line x1="545.5" y1="118" x2="546.9000000000001" y2="118" stroke="#ddd" stroke-width="0.6"/>
<line x1="545.5" y1="121" x2="546.9000000000001" y2="121" stroke="#ddd" stroke-width="0.6"/>
<line x1="545.5" y1="124" x2="546.9000000000001" y2="124" stroke="#ddd" stroke-width="0.6"/>
<line x1="545.5" y1="127" x2="546.9000000000001" y2="127" stroke="#ddd" stroke-width="0.6"/>
<text x="576" y="124.0" text-anchor="start">67</text>
<line x1="575.5" y1="122.9" x2="548" y2="123" stroke="#a0a0a0" stroke-width="0.95"/>
<path d="M520.7 139 L543.2 139 L555 148.6 L555 157.7 L543.2 169.3 L520.7 169.3 L508.6 157.7 L508.6 148.6 Z" stroke="#222" stroke-width="1.2" fill="#fff" />
<path d="M522 142 L541.5 142 L551.5 149.5 L551.5 156.5 L541.5 166 L522 166 L512 156.5 L512 149.5 Z" stroke="#222" stroke-width="0.8" fill="none" />
<path d="M508.6 148.6 Q531.7 165 555 148.6" stroke="#222" stroke-width="0.6" fill="none" />
<path d="M520.7 139 Q531.7 146 543.2 139" stroke="#222" stroke-width="0.9" fill="none" />
<line x1="538.7" y1="156.8" x2="551.7" y2="154.0" stroke="#222" stroke-width="1.0"/>
<line x1="537.8" y1="159.3" x2="549.0" y2="159.5" stroke="#222" stroke-width="1.0"/>
<line x1="535.2" y1="161.1" x2="541.7" y2="163.5" stroke="#222" stroke-width="1.0"/>
<line x1="531.7" y1="161.8" x2="531.7" y2="165.0" stroke="#222" stroke-width="1.0"/>
<line x1="528.2" y1="161.1" x2="521.7" y2="163.5" stroke="#222" stroke-width="1.0"/>
<line x1="525.6" y1="159.3" x2="514.4" y2="159.5" stroke="#222" stroke-width="1.0"/>
<line x1="524.7" y1="156.8" x2="511.7" y2="154.0" stroke="#222" stroke-width="1.0"/>
<line x1="525.6" y1="154.3" x2="514.4" y2="148.5" stroke="#222" stroke-width="1.0"/>
<line x1="528.2" y1="152.5" x2="521.7" y2="144.5" stroke="#222" stroke-width="1.0"/>
<line x1="531.7" y1="151.8" x2="531.7" y2="143.0" stroke="#222" stroke-width="1.0"/>
<line x1="535.2" y1="152.5" x2="541.7" y2="144.5" stroke="#222" stroke-width="1.0"/>
<line x1="537.8" y1="154.3" x2="549.0" y2="148.5" stroke="#222" stroke-width="1.0"/>
<ellipse cx="531.7" cy="156.8" rx="6.5" ry="5" stroke="#222" stroke-width="1.6" fill="#fff" />
<ellipse cx="531.7" cy="157.5" rx="4" ry="3" stroke="#222" stroke-width="1.0" fill="#666" />
<ellipse cx="531.7" cy="156.5" rx="2" ry="1.3" stroke="#222" stroke-width="0.6" fill="#ccc" />
<path d="M508.6 148.6 L512 149.5 M508.6 157.7 L512 156.5 M555 148.6 L551.5 149.5 M555 157.7 L551.5 156.5" stroke="#222" stroke-width="1.6" fill="none" />
<path d="M520.7 169.3 Q531.7 172 543.2 169.3" stroke="#222" stroke-width="0.9" fill="none" />
<text x="577" y="152.9" text-anchor="start">77</text>
<line x1="576.5" y1="151.8" x2="555.5" y2="152" stroke="#a0a0a0" stroke-width="0.95"/>
<line x1="510.5" y1="160" x2="510.5" y2="193" stroke="#333" stroke-width="0.5" stroke-dasharray="2,1.2"/>
<rect x="509.6" y="190" width="1.8" height="3.5" fill="#222" stroke="none" stroke-width="0.5"/>
<circle cx="510.5" cy="193" r="1.0" fill="#222" stroke="none" stroke-width="0.5"/>
<line x1="542.3" y1="160" x2="542.3" y2="200" stroke="#333" stroke-width="0.5" stroke-dasharray="2,1.2"/>
<rect x="541.4" y="197" width="1.8" height="3.5" fill="#222" stroke="none" stroke-width="0.5"/>
<circle cx="542.3" cy="200" r="1.0" fill="#222" stroke="none" stroke-width="0.5"/>
<line x1="553.5" y1="160" x2="553.5" y2="183" stroke="#333" stroke-width="0.5" stroke-dasharray="2,1.2"/>
<rect x="552.6" y="180" width="1.8" height="3.5" fill="#222" stroke="none" stroke-width="0.5"/>
<circle cx="553.5" cy="183" r="1.0" fill="#222" stroke="none" stroke-width="0.5"/>
<rect x="524.5" y="173" width="1.6" height="4.2" fill="#222" stroke="none" stroke-width="0.5"/>
<text x="576" y="183.5" text-anchor="start">193</text>
<line x1="575.5" y1="182.4" x2="554" y2="183" stroke="#1a1a1a" stroke-width="0.8"/>
<ellipse cx="531.9" cy="213.8" rx="21.2" ry="12.2" stroke="#222" stroke-width="1.2" fill="none" />
<text x="576" y="213.7" text-anchor="start">29M</text>
<line x1="575.5" y1="212.6" x2="553" y2="214" stroke="#a0a0a0" stroke-width="0.95"/>
<ellipse cx="531.9" cy="241" rx="21.2" ry="12.4" stroke="#222" stroke-width="1.25" fill="none" />
<text x="576" y="240.79999999999998" text-anchor="start">29M</text>
<line x1="575.5" y1="239.7" x2="553" y2="241" stroke="#1a1a1a" stroke-width="0.8"/>
<path d="M524 264 L524.5 266.5 Q531.7 270.5 539 266.5 L539.5 264" stroke="#222" stroke-width="1.0" fill="#fff" />
<ellipse cx="531.7" cy="264" rx="7.7" ry="3.6" stroke="#222" stroke-width="1.2" fill="#fff" />
<path d="M525.5 263 Q525.5 256.7 531.7 256.7 Q538 256.7 538 263 Q531.7 266 525.5 263 Z" stroke="#222" stroke-width="1.0" fill="#333" />
<ellipse cx="531.7" cy="259.8" rx="3.8" ry="2.2" stroke="#222" stroke-width="0.9" fill="#fff" />
<ellipse cx="531.7" cy="259.8" rx="1.6" ry="0.9" stroke="#222" stroke-width="0.6" fill="#555" />
<path d="M525.5 265 Q531.7 268 538 265" stroke="#ccc" stroke-width="0.6" fill="none" />
<text x="576" y="264.40000000000003" text-anchor="start">105</text>
<line x1="575.5" y1="263.3" x2="539.5" y2="264" stroke="#a0a0a0" stroke-width="0.95"/>
<line x1="525.5" y1="268" x2="525.5" y2="278" stroke="#555" stroke-width="0.5" stroke-dasharray="2,1"/>
<rect x="524.7" y="277" width="1.6" height="3" fill="#222" stroke="none" stroke-width="0.5"/>
<circle cx="525.5" cy="280" r="0.9" fill="#222" stroke="none" stroke-width="0.5"/>
<line x1="536.6" y1="268" x2="536.6" y2="279" stroke="#555" stroke-width="0.5" stroke-dasharray="2,1"/>
<rect x="535.8000000000001" y="278" width="1.6" height="3" fill="#222" stroke="none" stroke-width="0.5"/>
<circle cx="536.6" cy="281" r="0.9" fill="#222" stroke="none" stroke-width="0.5"/>
<rect x="531.2" y="272" width="1.2" height="4" fill="#222" stroke="none" stroke-width="0.5"/>
<text x="576" y="279.90000000000003" text-anchor="start">105A</text>
<line x1="575.5" y1="278.8" x2="537.5" y2="280" stroke="#a0a0a0" stroke-width="0.95"/>
<ellipse cx="531.7" cy="287.7" rx="5" ry="2.8" stroke="#222" stroke-width="1.5" fill="#fff" />
<ellipse cx="531.7" cy="287.7" rx="2.8" ry="1.5" stroke="#222" stroke-width="1.0" fill="#ddd" />
<text x="481.8" y="287.6" text-anchor="end">105B</text>
<line x1="481.5" y1="286.5" x2="526" y2="287" stroke="#a0a0a0" stroke-width="0.95"/>
<path d="M521 307 Q520 313 524 315.5 Q534 318 544 315 Q546.5 311 546 305" stroke="#222" stroke-width="1.0" fill="#fff" />
<path d="M522 309 Q534 313 545.5 308" stroke="#222" stroke-width="0.6" fill="none" />
<ellipse cx="532.2" cy="299.9" rx="15" ry="7.5" stroke="#222" stroke-width="1.0" fill="#fff" />
<ellipse cx="532.2" cy="300.5" rx="8.5" ry="4" stroke="#222" stroke-width="0.6" fill="none" />
<path d="M525 302 L525 296.5 L528 293.8 L536 293.8 L539.5 296.5 L539.5 302 L536 304.3 L528 304.3 Z" stroke="#222" stroke-width="1.3" fill="#aaa" />
<ellipse cx="532.2" cy="296.5" rx="4.5" ry="2.2" stroke="#222" stroke-width="0.9" fill="#fff" />
<ellipse cx="532.2" cy="296.5" rx="2" ry="1" stroke="#222" stroke-width="0.7" fill="#777" />
<path d="M527 300 Q532.2 303 537.5 300" stroke="#ddd" stroke-width="0.8" fill="none" />
<text x="577" y="303.1" text-anchor="start">64</text>
<line x1="576.5" y1="302" x2="547" y2="303" stroke="#a0a0a0" stroke-width="0.95"/>
<ellipse cx="531.7" cy="318.5" rx="2.2" ry="1.4" stroke="#222" stroke-width="0.5" fill="#222" />
<text x="577" y="318.70000000000005" text-anchor="start">66</text>
<line x1="576.5" y1="317.6" x2="534" y2="318.5" stroke="#a0a0a0" stroke-width="0.95"/>
<rect x="531" y="322" width="1.5" height="9" fill="#222" stroke="none" stroke-width="0.5"/>
<circle cx="531.7" cy="323.5" r="1.0" fill="#222" stroke="none" stroke-width="0.5"/>
<circle cx="531.7" cy="329.5" r="1.0" fill="#222" stroke="none" stroke-width="0.5"/>
<text x="577" y="327.3" text-anchor="start">67</text>
<line x1="576.5" y1="326.2" x2="533" y2="327" stroke="#1a1a1a" stroke-width="0.8"/>
<ellipse cx="531.7" cy="337.7" rx="2.8" ry="1.6" stroke="#222" stroke-width="0.8" fill="#222" />
<text x="577" y="337.90000000000003" text-anchor="start">412</text>
<line x1="576.5" y1="336.8" x2="534.5" y2="337.7" stroke="#a0a0a0" stroke-width="0.95"/>
<line x1="501" y1="348" x2="501" y2="378" stroke="#333" stroke-width="0.5" stroke-dasharray="2,1.2"/>
<circle cx="501" cy="347.5" r="1.0" fill="#222" stroke="none" stroke-width="0.5"/>
<text x="481.8" y="347.20000000000005" text-anchor="end">193</text>
<line x1="481.5" y1="346.1" x2="500.5" y2="348" stroke="#1a1a1a" stroke-width="0.8"/>
<path d="M555.4 356 Q563 362 562.6 371 Q561 380 548 386 Q536 390 524 389.5 L513 389.8 L510 383 L503 371 L504 357 L508.1 354 Z" stroke="#222" stroke-width="1.1" fill="#fff" />
<path d="M555.4 363 Q561 369 560 375 Q556 383 540 387.5" stroke="#222" stroke-width="0.6" fill="none" />
<path d="M503 371 L518 362 M504 357 L508.1 356" stroke="#222" stroke-width="0.9" fill="none" />
<path d="M504 357 Q504 351 508.1 351 L508.1 358" stroke="#222" stroke-width="0.8" fill="none" />
<g transform="rotate(-18 500.3 386.8)">
<path d="M502 371.5 L506 372 Q514 378 513.5 388 Q513 400 504 402 L500 401.8" stroke="#222" stroke-width="0.9" fill="#fff" />
<ellipse cx="500.3" cy="386.8" rx="11.5" ry="15.3" stroke="#222" stroke-width="1.1" fill="#fff" />
<ellipse cx="500" cy="386.5" rx="7.2" ry="9.5" stroke="#222" stroke-width="1.0" fill="#fff" />
<circle cx="509.8" cy="386.8" r="0.65" fill="#333" stroke="none" stroke-width="0.5"/>
<circle cx="508.0" cy="394.2" r="0.65" fill="#333" stroke="none" stroke-width="0.5"/>
<circle cx="503.2" cy="398.8" r="0.65" fill="#333" stroke="none" stroke-width="0.5"/>
<circle cx="497.4" cy="398.8" r="0.65" fill="#333" stroke="none" stroke-width="0.5"/>
<circle cx="492.6" cy="394.2" r="0.65" fill="#333" stroke="none" stroke-width="0.5"/>
<circle cx="490.8" cy="386.8" r="0.65" fill="#333" stroke="none" stroke-width="0.5"/>
<circle cx="492.6" cy="379.4" r="0.65" fill="#333" stroke="none" stroke-width="0.5"/>
<circle cx="497.4" cy="374.8" r="0.65" fill="#333" stroke="none" stroke-width="0.5"/>
<circle cx="503.2" cy="374.8" r="0.65" fill="#333" stroke="none" stroke-width="0.5"/>
<circle cx="508.0" cy="379.4" r="0.65" fill="#333" stroke="none" stroke-width="0.5"/>
</g>
<circle cx="502.5" cy="373.5" r="1.3" fill="#222" stroke="none" stroke-width="0.5"/>
<path d="M520.7 343.4 L542.2 343.4 L555.4 352 L555.4 362 L550 366 L513 366 L508.1 362 L508.1 354 Z" stroke="#222" stroke-width="1.2" fill="#fff" />
<ellipse cx="531.5" cy="358" rx="19" ry="9.5" stroke="#222" stroke-width="1.0" fill="#fff" />
<ellipse cx="531.5" cy="358.5" rx="17" ry="8" stroke="#222" stroke-width="0.7" fill="none" />
<path d="M518.3 365.5 Q518.3 361 531.5 361 Q544.6 361 544.6 365.5 Q531.5 372 518.3 365.5 Z" stroke="#222" stroke-width="1.0" fill="#fff" />
<path d="M523 362.3 Q531.5 360.3 540 362.3" stroke="#222" stroke-width="1.6" fill="none" />
<ellipse cx="531.5" cy="367" rx="11" ry="3" stroke="#222" stroke-width="0.6" fill="none" />
<circle cx="520.7" cy="343.8" r="1.4" fill="#fff" stroke="#222" stroke-width="1.0"/>
<circle cx="531.5" cy="343.4" r="1.4" fill="#fff" stroke="#222" stroke-width="1.0"/>
<circle cx="542.2" cy="343.8" r="1.4" fill="#fff" stroke="#222" stroke-width="1.0"/>
<circle cx="549.5" cy="347.5" r="1.4" fill="#fff" stroke="#222" stroke-width="1.0"/>
<circle cx="555" cy="352.5" r="1.4" fill="#fff" stroke="#222" stroke-width="1.0"/>
<circle cx="555" cy="361.5" r="1.4" fill="#fff" stroke="#222" stroke-width="1.0"/>
<circle cx="508.6" cy="352.5" r="1.4" fill="#fff" stroke="#222" stroke-width="1.0"/>
<circle cx="508.6" cy="361.5" r="1.4" fill="#fff" stroke="#222" stroke-width="1.0"/>
<circle cx="513.5" cy="347.5" r="1.4" fill="#fff" stroke="#222" stroke-width="1.0"/>
<circle cx="520.5" cy="369.5" r="1.4" fill="#fff" stroke="#222" stroke-width="1.0"/>
<circle cx="542.5" cy="369.5" r="1.4" fill="#fff" stroke="#222" stroke-width="1.0"/>
<circle cx="566" cy="349.5" r="1.0" fill="#222" stroke="none" stroke-width="0.5"/>
<path d="M555.4 357 L566 350" stroke="#222" stroke-width="0.6" fill="none" />
<text x="577" y="350.40000000000003" text-anchor="start">22</text>
<line x1="576.5" y1="349.3" x2="566.5" y2="349.5" stroke="#a0a0a0" stroke-width="0.95"/>
<text x="577" y="370.1" text-anchor="start">xx</text>
<line x1="576.5" y1="369" x2="562.5" y2="369" stroke="#a0a0a0" stroke-width="0.95"/>
<ellipse cx="526.1" cy="387.7" rx="2.7" ry="2.7" stroke="#222" stroke-width="1.0" fill="#fff" />
<path d="M523.4 387.7 L528.8 387.7 M526.1 385 L526.1 390.4" stroke="#222" stroke-width="1.1" fill="none" />
<ellipse cx="526.5" cy="396.5" rx="2.5" ry="1.7" stroke="#222" stroke-width="0.8" fill="#fff" />
<text x="577" y="397.20000000000005" text-anchor="start">909</text>
<line x1="576.5" y1="396.1" x2="529.5" y2="396.5" stroke="#a0a0a0" stroke-width="0.95"/>
<ellipse cx="526.5" cy="405.4" rx="3" ry="4" stroke="#222" stroke-width="0.9" fill="#fff" />
<path d="M523.5 405 Q526.5 407 529.5 405" stroke="#222" stroke-width="0.6" fill="none" />
<circle cx="527.5" cy="409.5" r="1.2" fill="#222" stroke="none" stroke-width="0.5"/>
<text x="577" y="407.8" text-anchor="start">903</text>
<line x1="576.5" y1="406.7" x2="529.5" y2="408" stroke="#a0a0a0" stroke-width="0.95"/>
<circle cx="529" cy="417" r="0.9" fill="#222" stroke="none" stroke-width="0.5"/>
<text x="577" y="416.70000000000005" text-anchor="start">90D</text>
<line x1="576.5" y1="415.6" x2="530" y2="416.5" stroke="#1a1a1a" stroke-width="0.8"/>
<text x="577" y="422.90000000000003" text-anchor="start">11XM</text>
<path d="M514.5 432.7 Q520 441 521.5 440.1" stroke="#222" stroke-width="0.9" fill="none" />
<path d="M548.9 432.7 Q543 441 541.9 440.1" stroke="#222" stroke-width="0.9" fill="none" />
<ellipse cx="531.7" cy="432.7" rx="17.2" ry="8.4" stroke="#222" stroke-width="0.9" fill="none" />
<ellipse cx="531.7" cy="440.1" rx="10.2" ry="5.1" stroke="#222" stroke-width="1.0" fill="#fff" />
<path d="M521.5 441 Q531.7 448 541.9 441" stroke="#222" stroke-width="0.9" fill="none" />
<text x="486.8" y="429.5" text-anchor="end">29A</text>
<line x1="486.5" y1="428.4" x2="515" y2="428.5" stroke="#1a1a1a" stroke-width="0.8"/>
<text x="483.3" y="440.3" text-anchor="end">99</text>
<line x1="483.0" y1="439.2" x2="522" y2="441" stroke="#1a1a1a" stroke-width="0.8"/>
<path d="M514.5 459 Q515 466 521 470 Q524 474 531.7 474.5 Q539 474 542 470 Q548 466 549 459" stroke="#222" stroke-width="1.0" fill="#fff" />
<ellipse cx="531.7" cy="458.8" rx="17.2" ry="9.3" stroke="#222" stroke-width="1.0" fill="#fff" />
<ellipse cx="531.7" cy="460" rx="12" ry="6" stroke="#222" stroke-width="0.8" fill="none" />
<path d="M522 463 Q525 452 540 450 M524 465 Q528 455 540 452" stroke="#222" stroke-width="0.6" fill="none" />
<path d="M522 470 Q531.7 476 542 470" stroke="#222" stroke-width="1.1" fill="none" />
<ellipse cx="531.7" cy="464" rx="8" ry="3" stroke="#222" stroke-width="0.6" fill="none" />
<text x="577" y="464.90000000000003" text-anchor="start">123</text>
<line x1="576.5" y1="463.8" x2="550" y2="464" stroke="#a0a0a0" stroke-width="0.95"/>
<path d="M512.2 490.4 L512.5 494 A19.5 10.5 0 0 0 551 494 L551.2 490.4" stroke="#222" stroke-width="1.2" fill="#fff" />
<ellipse cx="531.7" cy="490.4" rx="19.5" ry="10.7" stroke="#222" stroke-width="1.3" fill="#fff" />
<ellipse cx="531.7" cy="490.8" rx="17" ry="9" stroke="#222" stroke-width="0.7" fill="none" />
<ellipse cx="531.7" cy="492" rx="10.5" ry="5.7" stroke="#222" stroke-width="1.1" fill="#fff" />
<path d="M522 489 Q531.7 484 541 489" stroke="#222" stroke-width="1.1" fill="none" />
<circle cx="550.0" cy="490.6" r="0.8" fill="#222" stroke="none" stroke-width="0.5"/>
<circle cx="545.7" cy="496.9" r="0.8" fill="#222" stroke="none" stroke-width="0.5"/>
<circle cx="534.9" cy="500.3" r="0.8" fill="#222" stroke="none" stroke-width="0.5"/>
<circle cx="522.6" cy="499.1" r="0.8" fill="#222" stroke="none" stroke-width="0.5"/>
<circle cx="514.5" cy="494.0" r="0.8" fill="#222" stroke="none" stroke-width="0.5"/>
<circle cx="514.5" cy="487.2" r="0.8" fill="#222" stroke="none" stroke-width="0.5"/>
<circle cx="522.6" cy="482.1" r="0.8" fill="#222" stroke="none" stroke-width="0.5"/>
<circle cx="534.9" cy="480.9" r="0.8" fill="#222" stroke="none" stroke-width="0.5"/>
<circle cx="545.7" cy="484.3" r="0.8" fill="#222" stroke="none" stroke-width="0.5"/>
<text x="577" y="491.5" text-anchor="start">12</text>
<line x1="576.5" y1="490.4" x2="551.5" y2="491" stroke="#1a1a1a" stroke-width="0.8"/>
<line x1="515.9" y1="502" x2="515.9" y2="575" stroke="#333" stroke-width="0.5" stroke-dasharray="2,1.2"/>
<line x1="522.4" y1="502" x2="522.4" y2="560" stroke="#333" stroke-width="0.5" stroke-dasharray="2,1.2"/>
<line x1="534.5" y1="502" x2="534.5" y2="570" stroke="#333" stroke-width="0.5" stroke-dasharray="2,1.2"/>
<line x1="541.9" y1="502" x2="541.9" y2="583" stroke="#333" stroke-width="0.5" stroke-dasharray="2,1.2"/>
<line x1="547.9" y1="502" x2="547.9" y2="555" stroke="#333" stroke-width="0.5" stroke-dasharray="2,1.2"/>
<ellipse cx="515.9" cy="528.9" rx="1.5" ry="2.3" stroke="#222" stroke-width="0.4" fill="#222" />
<ellipse cx="515.9" cy="542.8" rx="1.5" ry="2.3" stroke="#222" stroke-width="0.4" fill="#222" />
<ellipse cx="515.9" cy="553" rx="1.5" ry="2.3" stroke="#222" stroke-width="0.4" fill="#222" />
<ellipse cx="522.4" cy="539.1" rx="1.5" ry="2.3" stroke="#222" stroke-width="0.4" fill="#222" />
<ellipse cx="522.4" cy="558.6" rx="1.5" ry="2.3" stroke="#222" stroke-width="0.4" fill="#222" />
<ellipse cx="541.9" cy="538.2" rx="1.5" ry="2.3" stroke="#222" stroke-width="0.4" fill="#222" />
<ellipse cx="541.9" cy="557.7" rx="1.5" ry="2.3" stroke="#222" stroke-width="0.4" fill="#222" />
<ellipse cx="547.9" cy="527" rx="1.5" ry="2.3" stroke="#222" stroke-width="0.4" fill="#222" />
<ellipse cx="547.9" cy="542.8" rx="1.5" ry="2.3" stroke="#222" stroke-width="0.4" fill="#222" />
<ellipse cx="547.9" cy="554" rx="1.5" ry="2.3" stroke="#222" stroke-width="0.4" fill="#222" />
<ellipse cx="515.9" cy="574.5" rx="1.7" ry="2.3" stroke="#222" stroke-width="0.7" fill="#777" />
<ellipse cx="534.5" cy="568" rx="1.7" ry="2.3" stroke="#222" stroke-width="0.7" fill="#777" />
<ellipse cx="541.9" cy="582.9" rx="1.7" ry="2.3" stroke="#222" stroke-width="0.7" fill="#777" />
<rect x="528.2" y="513" width="1.6" height="7" fill="#222" stroke="none" stroke-width="0.5"/>
<circle cx="529" cy="520" r="1.0" fill="#222" stroke="none" stroke-width="0.5"/>
<text x="577" y="525.3000000000001" text-anchor="start">953</text>
<line x1="576.5" y1="524.2" x2="549.5" y2="525" stroke="#1a1a1a" stroke-width="0.8"/>
<text x="577" y="535.5" text-anchor="start">22</text>
<line x1="576.5" y1="534.4" x2="549.5" y2="530" stroke="#1a1a1a" stroke-width="0.8"/>
<text x="577" y="553.8000000000001" text-anchor="start">M7</text>
<line x1="576.5" y1="552.7" x2="549.5" y2="553" stroke="#1a1a1a" stroke-width="0.8"/>
<text x="575" y="564.4" text-anchor="start">953</text>
<line x1="574.5" y1="563.3" x2="549.5" y2="555" stroke="#1a1a1a" stroke-width="0.8"/>
<text x="575" y="584.0" text-anchor="start">T02</text>
<line x1="574.5" y1="582.9" x2="543.5" y2="583" stroke="#a0a0a0" stroke-width="0.95"/>
<line x1="514.9" y1="390" x2="514.9" y2="502" stroke="#444" stroke-width="0.6" stroke-dasharray="2,1.2"/>
<line x1="541.9" y1="390" x2="541.9" y2="502" stroke="#444" stroke-width="0.6" stroke-dasharray="2,1.2"/>
<line x1="547.5" y1="390" x2="547.5" y2="502" stroke="#444" stroke-width="0.6" stroke-dasharray="2,1.2"/>
<line x1="209.5" y1="25" x2="209.5" y2="613" stroke="#111" stroke-width="0.85" stroke-dasharray="2.8,1.3,0.5,1.3"/>
<line x1="370.7" y1="18" x2="370.7" y2="610" stroke="#8a8a8a" stroke-width="1.1" stroke-dasharray="2.8,1.3,0.5,1.3"/>
<line x1="531.8" y1="17.3" x2="531.8" y2="609" stroke="#8a8a8a" stroke-width="1.1" stroke-dasharray="2.8,1.3,0.5,1.3"/>
</svg>
</body></html>
